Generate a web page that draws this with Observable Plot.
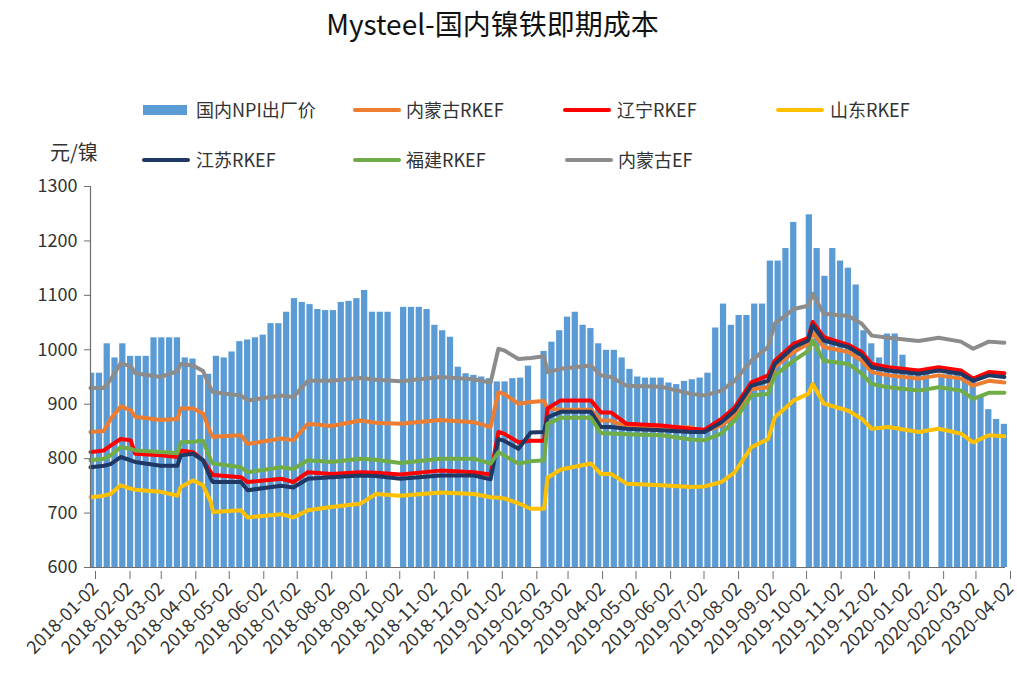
<!DOCTYPE html>
<html><head><meta charset="utf-8">
<script src="https://cdn.jsdelivr.net/npm/d3@7"></script>
<script src="https://cdn.jsdelivr.net/npm/@observablehq/plot@0.6"></script>
<style>
body{margin:0;background:#fff;font-family:"Noto Sans CJK SC","Noto Sans",sans-serif;color:#333;}
#header{position:relative;width:1017px;height:170px;}
.title{position:absolute;left:0;width:985px;top:9px;line-height:28px;text-align:center;font-size:28px;color:#111;}
.lab{position:absolute;font-size:18px;line-height:18px;white-space:nowrap;color:#333;}
.sw{position:absolute;}
.unit{position:absolute;left:50px;top:142px;font-size:20px;line-height:20px;color:#333;}
</style></head>
<body>
<div id="header">
  <div class="title">Mysteel-国内镍铁即期成本</div>
  <div class="unit">元/镍</div>
</div>
<div id="chart"></div>
<script>
// ---- data ----
const weekStart = "2018-01-01"; // Monday of first weekly bar
const npiWeekly = [
 957,957,1011,985,1011,988,988,988,1022,1022,
 1022,1022,985,983,953,955,988,985,996,1015,
 1018,1022,1027,1048,1048,1069,1094,1087,1083,1074,
 1072,1072,1087,1089,1094,1109,1069,1069,1069,null,
 1078,1078,1078,1074,1045,1035,1023,968,956,953,
 950,947,941,941,947,948,970,null,997,1014,
 1035,1060,1069,1045,1039,1011,999,999,985,964,
 950,948,948,948,939,936,942,945,948,957,
 1040,1084,1045,1063,1063,1084,1084,1163,1163,1186,
 1234,null,1248,1186,1135,1186,1163,1150,1119,1035,
 1011,985,1029,1029,990,960,958,955,null,955,
 955,955,952,945,915,890,872,863
];
const lineDates = ["2018-01-02","2018-01-14","2018-01-20","2018-01-29","2018-02-07","2018-02-11","2018-03-06","2018-03-21","2018-03-24","2018-04-04","2018-04-13","2018-04-20","2018-04-22","2018-05-17","2018-05-23","2018-06-22","2018-07-03","2018-07-16","2018-08-06","2018-09-01","2018-09-15","2018-10-07","2018-11-12","2018-12-12","2018-12-27","2019-01-03","2019-01-08","2019-01-21","2019-02-01","2019-02-13","2019-02-16","2019-02-28","2019-03-27","2019-04-05","2019-04-14","2019-04-28","2019-05-29","2019-06-25","2019-07-07","2019-07-22","2019-08-03","2019-08-18","2019-09-02","2019-09-08","2019-09-25","2019-10-08","2019-10-12","2019-10-22","2019-11-13","2019-11-25","2019-12-04","2019-12-19","2020-01-15","2020-02-02","2020-02-22","2020-03-04","2020-03-18","2020-04-01"];
const neimengguRKEF = [849,851,873,896,889,877,871,873,892,892, 883,846,840,843,827,837,834,864,860,870, 866,864,871,867,858,922,919,901,904,906, 892,890,890,870,870,858,858,857,850,861, 879,928,931,968,996,1011,1032,1005,996,980, 959,953,947,953,947,934,943,940];
const liaoningRKEF = [812,815,824,836,834,809,806,803,815,812, 797,775,770,766,757,763,757,775,772,775, 774,771,778,775,771,849,846,830,833,833, 892,907,907,885,885,864,861,855,853,873, 894,940,953,980,1011,1022,1051,1023,1009,996, 974,968,962,968,962,947,959,957];
const shandongRKEF = [729,732,735,751,745,743,739,732,748,760, 751,720,702,705,692,698,692,705,711,717, 735,732,738,735,729,728,727,718,708,708, 765,780,791,772,772,754,751,748,749,757, 775,821,836,876,907,919,937,901,888,873, 855,858,849,855,846,830,843,841];
const jiangsuRKEF = [784,787,790,803,797,794,787,787,806,809, 797,763,757,757,742,750,747,763,766,769, 768,763,769,769,762,836,833,818,848,849, 876,886,886,858,858,855,852,849,849,867, 888,934,943,974,1005,1017,1045,1017,1005,990, 968,962,956,962,956,943,953,950];
const fujianRKEF = [797,800,806,821,818,815,812,810,830,831, 833,797,791,784,775,784,781,797,794,800, 798,792,800,800,791,812,806,791,795,797, 864,875,875,847,846,845,843,835,834,846, 870,916,919,953,980,998,1017,980,974,956, 937,931,925,931,925,910,921,921];
const neimengguEF = [930,930,945,975,970,957,950,961,974,971, 961,928,922,916,907,916,913,943,943,948, 945,942,950,946,940,1002,999,983,985,988, 959,965,971,953,950,934,932,919,916,925, 943,980,1005,1048,1075,1081,1103,1066,1062,1048, 1026,1022,1016,1022,1015,1002,1015,1013];
const seriesNames = ["国内NPI出厂价","内蒙古RKEF","辽宁RKEF","山东RKEF","江苏RKEF","福建RKEF","内蒙古EF"];
const seriesColors = ["#5B9BD5","#ED7D31","#FF0000","#FFC000","#203864","#70AD47","#8C8C8C"];
const yTicks = [600,700,800,900,1000,1100,1200,1300];
const xTickLabels = ["2018-01-02","2018-02-02","2018-03-02","2018-04-02","2018-05-02","2018-06-02","2018-07-02","2018-08-02","2018-09-02","2018-10-02","2018-11-02","2018-12-02","2019-01-02","2019-02-02","2019-03-02","2019-04-02","2019-05-02","2019-06-02","2019-07-02","2019-08-02","2019-09-02","2019-10-02","2019-11-02","2019-12-02","2020-01-02","2020-02-02","2020-03-02","2020-04-02"];

// ---- legend (HTML) ----
const header = document.getElementById("header");
const legendPos = [[143,110,196],[353,110,406],[563,110,617],[776,110,830],[142,160,196],[353,160,406],[565,160,618]];
seriesNames.forEach((n,i)=>{
  const [sx,cy,lx] = legendPos[i];
  const sw = document.createElement("div");
  sw.className="sw";
  if(i===0){ sw.style.cssText=`left:${sx}px;top:${cy-5}px;width:44px;height:10px;background:${seriesColors[i]}`; }
  else { sw.style.cssText=`left:${sx}px;top:${cy-2}px;width:48px;height:4px;border-radius:2px;background:${seriesColors[i]}`; }
  header.appendChild(sw);
  const lb = document.createElement("div");
  lb.className="lab"; lb.textContent=n;
  lb.style.left=lx+"px"; lb.style.top=(cy-10)+"px";
  header.appendChild(lb);
});

// ---- build tables ----
const DAY = 864e5;
const parse = s => new Date(s+"T00:00:00Z");
const xStart = parse(xTickLabels[0]), xEnd = parse(xTickLabels[xTickLabels.length-1]);
const ws = parse(weekStart);
const bars = npiWeekly.map((v,i)=>({mon:new Date(+ws + i*7*DAY), v})).filter(d=>d.v!=null)
  .map(d=>({x1:new Date(Math.max(+xStart, +d.mon - 0.8*DAY)), x2:new Date(+d.mon + 4.8*DAY), v:d.v}));
const lineSeries = [neimengguRKEF, liaoningRKEF, shandongRKEF, jiangsuRKEF, fujianRKEF, neimengguEF];
const lineMarks = lineSeries.map((vals,i)=>Plot.line(vals.map((v,j)=>({date:parse(lineDates[j]), v})),
  {x:"date", y:"v", stroke:seriesColors[i+1], strokeWidth:4, strokeLinejoin:"round", strokeLinecap:"round"}));

const chart = Plot.plot({
  width:1017, height:509,
  marginLeft:90, marginRight:12, marginTop:16, marginBottom:112,
  style:{fontFamily:'"Noto Sans CJK SC","Noto Sans",sans-serif', fontSize:"17px", color:"#333", background:"#fff", overflow:"visible"},
  x:{type:"utc", domain:[xStart, xEnd]},
  y:{domain:[600,1300]},
  marks:[
    Plot.rect(bars,{x1:"x1", x2:"x2", y1:()=>600, y2:"v", fill:seriesColors[0]}),
    ...lineMarks,
    Plot.ruleY([600],{stroke:"#6f6f6f", strokeWidth:1.2}),
    Plot.ruleX([xStart],{stroke:"#6f6f6f", strokeWidth:1.2}),
    Plot.axisY({ticks:yTicks, tickFormat:d=>String(d), tickSize:6, tickPadding:7, label:null, stroke:"#6f6f6f", fontSize:18}),
    Plot.axisX({ticks:xTickLabels.map(parse), tickFormat:d3.utcFormat("%Y-%m-%d"), tickSize:8, tickPadding:6, tickRotate:-45, label:null, stroke:"#6f6f6f", fontSize:18, dx:5, dy:4})
  ]
});
document.getElementById("chart").appendChild(chart);
</script>
</body></html>
